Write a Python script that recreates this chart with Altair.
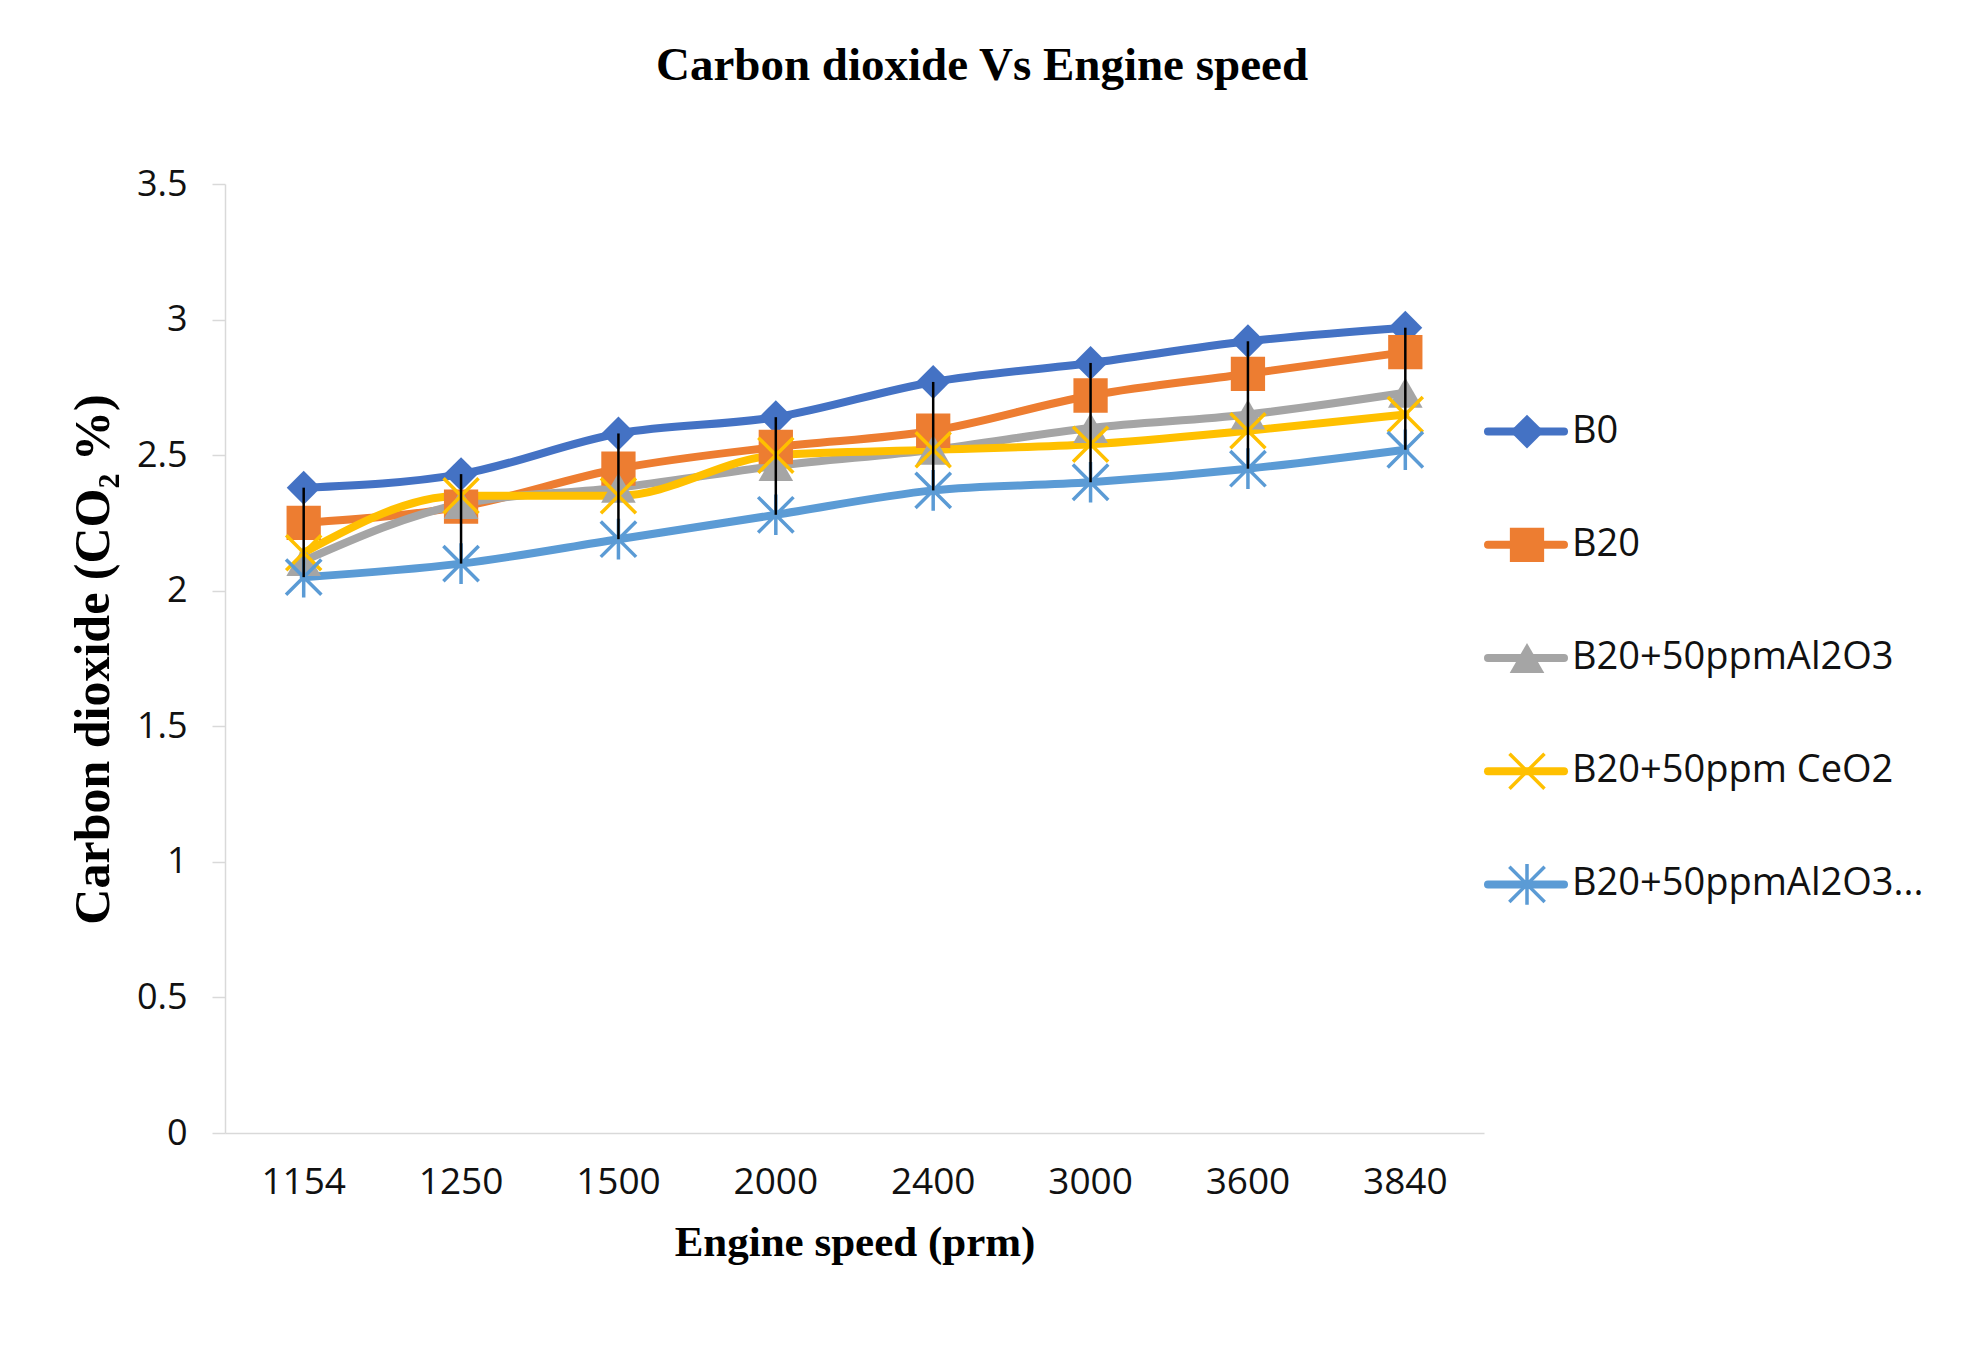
import altair as alt
import pandas as pd

speeds = ["1154", "1250", "1500", "2000", "2400", "3000", "3600", "3840"]
series_names = ["B0", "B20", "B20+50ppmAl2O3", "B20+50ppm CeO2", "B20+50ppmAl2O3..."]
b0 = [2.38, 2.43, 2.58, 2.64, 2.77, 2.84, 2.92, 2.97]
b20 = [2.25, 2.31, 2.45, 2.53, 2.59, 2.72, 2.80, 2.88]
b20_al = [2.11, 2.32, 2.38, 2.46, 2.52, 2.60, 2.65, 2.73]
b20_ce = [2.14, 2.35, 2.35, 2.50, 2.52, 2.54, 2.59, 2.65]
b20_mix = [2.05, 2.10, 2.19, 2.28, 2.37, 2.40, 2.45, 2.52]
y_ticks = [0, 0.5, 1, 1.5, 2, 2.5, 3, 3.5]

colors = ["#4472C4", "#ED7D31", "#A5A5A5", "#FFC000", "#5B9BD5"]
X_PATH = "M-1,-1L1,1M-1,1L1,-1"
STAR_PATH = "M-1,-1L1,1M-1,1L1,-1M0,-1.15L0,1.15"
shapes = ["diamond", "square", "triangle-up", X_PATH, STAR_PATH]
sizes = [1150, 1250, 1100, 1050, 1050]

rows = []
for name, vals in zip(series_names, [b0, b20, b20_al, b20_ce, b20_mix]):
    for s, v in zip(speeds, vals):
        rows.append({"speed": s, "series": name, "value": v})
df = pd.DataFrame(rows)

color_scale = alt.Scale(domain=series_names, range=colors)
shape_scale = alt.Scale(domain=series_names, range=shapes)
size_scale = alt.Scale(domain=series_names, range=sizes)

x_enc = alt.X("speed:N", sort=speeds,
              scale=alt.Scale(paddingInner=0, paddingOuter=0),
              axis=alt.Axis(title="Engine speed (prm)", labelAngle=0, ticks=False,
                            labelFontSize=37, labelPadding=31, titleY=109,
                            titleBaseline="middle",
                            titleFont="Liberation Serif", titleFontSize=43,
                            titleFontWeight="bold", titleColor="#000000"))
y_enc = alt.Y("value:Q", scale=alt.Scale(domain=[0, 3.5], nice=False, zero=True),
              axis=alt.Axis(title="Carbon dioxide (CO₂ %)", values=y_ticks, grid=False,
                            format="~g", labelFontSize=36,
                            ticks=True, tickSize=13, tickColor="#D9D9D9", tickWidth=1.5,
                            labelPadding=25, titleX=-117, titleY=475,
                            titleBaseline="alphabetic", titleAngle=270,
                            titleFont="Liberation Serif", titleFontSize=50,
                            titleFontWeight="bold", titleColor="#000000"))

base = alt.Chart(df).encode(
    x=x_enc, y=y_enc,
    color=alt.Color("series:N", scale=color_scale, legend=None),
)

lines = base.mark_line(interpolate="monotone", strokeWidth=8, strokeCap="round", strokeJoin="round")
filled_pts = base.transform_filter(
    alt.FieldOneOfPredicate(field="series", oneOf=series_names[:3])
).mark_point(filled=True, opacity=1, strokeWidth=0).encode(
    shape=alt.Shape("series:N", scale=shape_scale, legend=None),
    size=alt.Size("series:N", scale=size_scale, legend=None),
)
stroke_pts = base.transform_filter(
    alt.FieldOneOfPredicate(field="series", oneOf=series_names[3:])
).mark_point(filled=False, opacity=1, strokeWidth=3.5).encode(
    shape=alt.Shape("series:N", scale=shape_scale, legend=None),
    size=alt.Size("series:N", scale=size_scale, legend=None),
)
hilo = alt.Chart(df).transform_aggregate(
    hi="max(value)", lo="min(value)", groupby=["speed"]
).mark_rule(color="#000000", strokeWidth=2.5).encode(
    x=alt.X("speed:N", sort=speeds), y="hi:Q", y2="lo:Q"
)

main = alt.layer(lines, filled_pts, stroke_pts, hilo).properties(width=1259, height=949)

# legend panel
leg_df = pd.DataFrame({"series": series_names})
leg_y = alt.Y("series:N", sort=series_names,
              scale=alt.Scale(domain=series_names, range=[191, 757],
                              paddingInner=0, paddingOuter=0), axis=None)
leg_base = alt.Chart(leg_df).encode(
    y=leg_y, color=alt.Color("series:N", scale=color_scale, legend=None)
)
leg_line = leg_base.mark_rule(strokeWidth=8, strokeCap="round").encode(
    x=alt.value(4), x2=alt.value(80)
)
leg_filled = leg_base.transform_filter(
    alt.FieldOneOfPredicate(field="series", oneOf=series_names[:3])
).mark_point(filled=True, opacity=1, strokeWidth=0).encode(
    x=alt.value(43),
    shape=alt.Shape("series:N", scale=shape_scale, legend=None),
    size=alt.Size("series:N", scale=size_scale, legend=None),
)
leg_stroke = leg_base.transform_filter(
    alt.FieldOneOfPredicate(field="series", oneOf=series_names[3:])
).mark_point(filled=False, opacity=1, strokeWidth=3.5).encode(
    x=alt.value(43),
    shape=alt.Shape("series:N", scale=shape_scale, legend=None),
    size=alt.Size("series:N", scale=size_scale, legend=None),
)
leg_text = alt.Chart(leg_df).mark_text(
    align="left", baseline="middle", font="Open Sans", fontSize=38, color="#111111"
).encode(x=alt.value(88), y=leg_y, text="series:N")

legend = alt.layer(leg_line, leg_filled, leg_stroke, leg_text).properties(width=440, height=949)

chart = alt.hconcat(main, legend, spacing=0).resolve_scale(
    color="shared", shape="shared", size="shared"
).properties(
    title=alt.TitleParams(
        "Carbon dioxide Vs Engine speed", font="Liberation Serif", fontSize=47,
        fontWeight="bold", color="#000000", anchor="middle", dx=-14, offset=76
    ),
    padding={"left": 60, "top": 34, "right": 10, "bottom": 10},
    background="#FFFFFF",
).configure_view(stroke=None).configure_axis(
    domainColor="#D9D9D9", domainWidth=1.5,
    labelFont="Open Sans", labelColor="#111111",
)

chart.save("out.html", embed_options={"renderer": "svg", "actions": False})
